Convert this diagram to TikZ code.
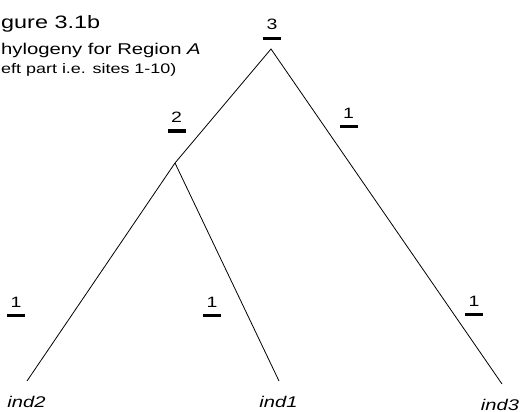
\documentclass[tikz,border=0pt]{standalone}
\usepackage{fontspec}
\setmainfont{Liberation Sans}[FakeStretch=1.3]
\usetikzlibrary{positioning}
\tikzstyle{branch} = [draw=black, line width=0.8pt]
\tikzstyle{countbar} = [fill=black, rectangle, inner sep=0,
    minimum width=18pt, minimum height=3pt]
\tikzstyle{count} = [inner sep=0, font=\fontsize{15}{17}\selectfont]
\tikzstyle{leaf} = [inner sep=0, anchor=base, font=\fontsize{15.5}{18}\selectfont\itshape]
\tikzstyle{figtitle} = [inner sep=0, anchor=base west]

\begin{document}
\begin{tikzpicture}[x=1pt, y=-1pt]
\useasboundingbox (0,0) rectangle (520,412);

% title
\node[figtitle, font=\fontsize{18}{21}\selectfont] (t1) at (1,29) {gure 3.1b};
\node[figtitle, font=\fontsize{15.6}{19}\selectfont] (t2) at (1,55) {hylogeny for Region \textit{A}};
\node[figtitle, font=\fontsize{13.8}{17}\selectfont] (t3) at (1,74) {eft part i.e. sites 1-10)};

% tree
\coordinate (root) at (271,49);
\coordinate (n12) at (175,163);
\coordinate (e2) at (27,381);
\coordinate (e1) at (279,381);
\coordinate (e3) at (502,384);

\draw[branch] (e2) -- (n12) -- (root) -- (e3);
\draw[branch] (n12) -- (e1);

\node[leaf] (ind2) at (26.5,407) {ind2};
\node[leaf] (ind1) at (278.5,407) {ind1};
\node[leaf] (ind3) at (500,410) {ind3};

% counts on the branches
\node[countbar] (broot) at (272,39) {};
\node[count, above=7pt of broot] (croot) {3};
\node[countbar] (bn12) at (176.5,131) {};
\node[count, above=7pt of bn12] (cn12) {2};
\node[countbar] (bup3) at (348.5,127) {};
\node[count, above=7pt of bup3] (cup3) {1};
\node[countbar] (bind2) at (16,315) {};
\node[count, above=6pt of bind2] (cind2) {1};
\node[countbar] (bind1) at (212,315) {};
\node[count, above=6pt of bind1] (cind1) {1};
\node[countbar] (bind3) at (474,314) {};
\node[count, above=6pt of bind3] (cind3) {1};
\end{tikzpicture}
\end{document}
